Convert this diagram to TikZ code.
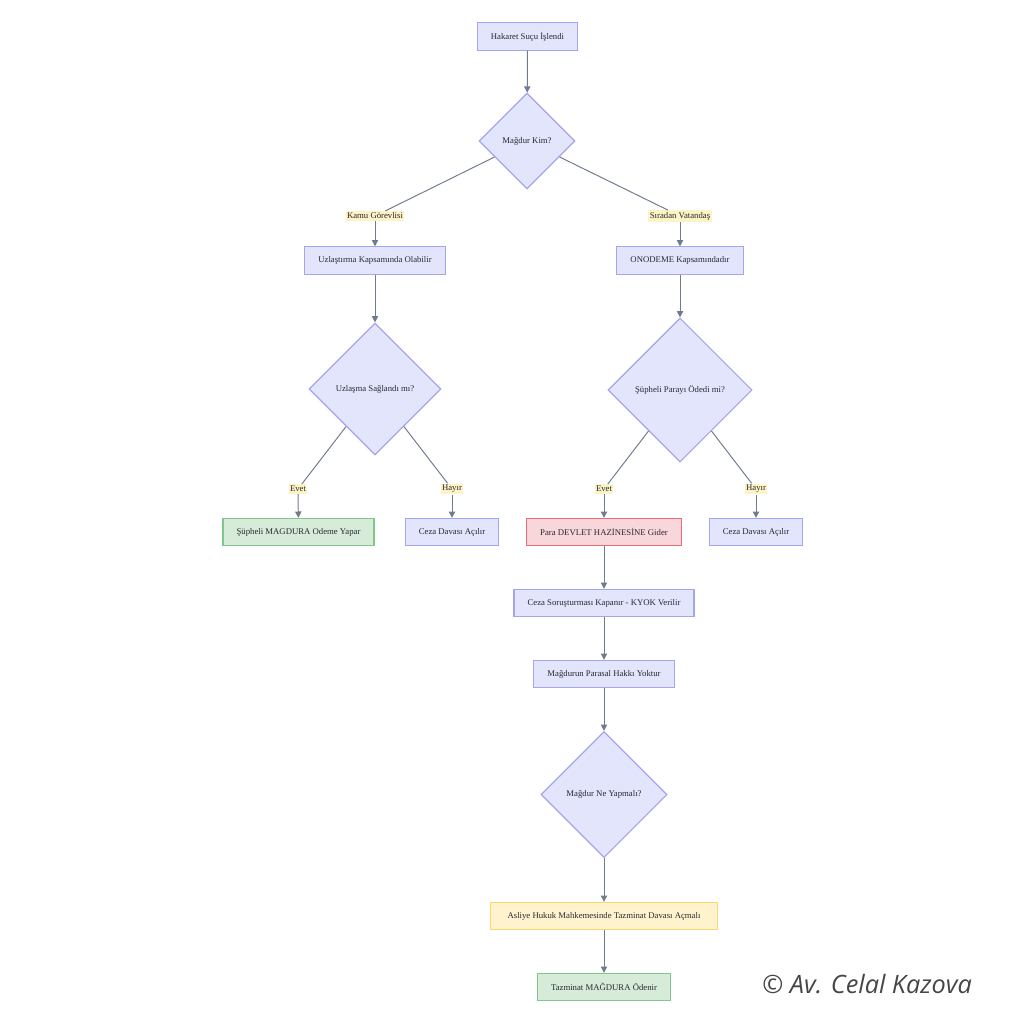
\documentclass[tikz,border=0pt]{standalone}
\usepackage{fontspec}
\setmainfont{Liberation Serif}
\newfontfamily\signfont{Open Sans}
\usepackage{xcolor}
\usepackage{tikz}
\usetikzlibrary{shapes.geometric, arrows.meta, positioning}
\definecolor{boxfill}{RGB}{226,229,252}
\definecolor{boxline}{RGB}{165,165,235}
\definecolor{okfill}{RGB}{214,236,217}
\definecolor{okline}{RGB}{128,200,138}
\definecolor{badfill}{RGB}{248,214,218}
\definecolor{badline}{RGB}{230,108,120}
\definecolor{notefill}{RGB}{255,243,206}
\definecolor{noteline}{RGB}{252,214,105}
\definecolor{lblfill}{RGB}{252,244,196}
\definecolor{edgecol}{RGB}{112,124,142}
\definecolor{txtcol}{RGB}{40,40,50}
\definecolor{signcol}{RGB}{70,70,70}

\begin{document}
\begin{tikzpicture}[
  x=0.025cm, y=-0.025cm,
  procnode/.style = {rectangle, fill=boxfill, draw=boxline, line width=0.8pt,
                 minimum height=0.68cm, inner xsep=0.34cm, text=txtcol,
                 font=\fontsize{6.2}{7.5}\selectfont},
  oknode/.style   = {procnode, fill=okfill, draw=okline},
  badnode/.style  = {procnode, fill=badfill, draw=badline},
  notenode/.style = {procnode, fill=notefill, draw=noteline, inner xsep=0.42cm},
  decnode/.style  = {diamond, aspect=1, inner sep=0pt, fill=boxfill, draw=boxline,
                 line width=0.8pt, text=txtcol, font=\fontsize{6.2}{7.5}\selectfont},
  lblnode/.style  = {rectangle, fill=lblfill, inner xsep=1pt, inner ysep=1.2pt,
                 text=txtcol, font=\fontsize{6.2}{7.5}\selectfont},
  line/.style = {line width=0.7pt, color=edgecol},
  arr/.style  = {line, -{Triangle[length=4.5pt, width=4.5pt]}},
]
\useasboundingbox (0,0) rectangle (1024,1024);

%% --- Top ---
\node[procnode] (hak) at (527.5,36.5) {Hakaret Suçu İşlendi};
\node[decnode, minimum size=2.4cm] (kim) at (527,141) {Mağdur Kim?};

%% --- Left branch ---
\node[lblnode] (lkamu) at (375,216) {Kamu Görevlisi};
\node[procnode] (uzl) at (375,260.5) {Uzlaştırma Kapsamında Olabilir};
\node[decnode, minimum size=3.3cm] (uzls) at (375,389) {Uzlaşma Sağlandı mı?};
\node[lblnode] (levet1) at (298,489) {Evet};
\node[lblnode] (lhayir1) at (452,489) {Hayır};
\node[oknode] (odeme) at (298.5,532) {Şüpheli MAGDURA Odeme Yapar};
\node[procnode] (dava1) at (452,532) {Ceza Davası Açılır};

%% --- Right branch ---
\node[lblnode] (lvat) at (680,216) {Sıradan Vatandaş};
\node[procnode] (onod) at (680,260.5) {ONODEME Kapsamındadır};
\node[decnode, minimum size=3.6cm] (para) at (680,390) {Şüpheli Parayı Ödedi mi?};
\node[lblnode] (levet2) at (604,489) {Evet};
\node[lblnode] (lhayir2) at (756,489) {Hayır};
\node[badnode] (hazine) at (604,532) {Para DEVLET HAZİNESİNE Gider};
\node[procnode] (dava2) at (756,532) {Ceza Davası Açılır};

%% --- Lower chain ---
\node[procnode] (kyok) at (604,603) {Ceza Soruşturması Kapanır - KYOK Verilir};
\node[procnode] (hakki) at (604,674) {Mağdurun Parasal Hakkı Yoktur};
\node[decnode, minimum size=3.15cm] (ne) at (604,794.5) {Mağdur Ne Yapmalı?};
\node[notenode] (asliye) at (604,916) {Asliye Hukuk Mahkemesinde Tazminat Davası Açmalı};
\node[oknode] (tazm) at (604,987) {Tazminat MAĞDURA Ödenir};

%% --- Signature ---
\node[anchor=west, inner sep=0pt, text=signcol, font=\signfont\itshape\fontsize{18}{20}\selectfont]
  (sign) at (762,984) {© Av. Celal Kazova};

%% --- Edges into labels ---
\foreach \a/\b in {kim/lkamu, kim/lvat, uzls/levet1, uzls/lhayir1, para/levet2, para/lhayir2} {
  \draw[line] (\a) -- (\b);
}

%% --- Arrows ---
\foreach \a/\b in {hak/kim, lkamu/uzl, lvat/onod, uzl/uzls, onod/para,
                   levet1/odeme, lhayir1/dava1, levet2/hazine, lhayir2/dava2,
                   hazine/kyok, kyok/hakki, hakki/ne, ne/asliye, asliye/tazm} {
  \draw[arr] (\a) -- (\b);
}

\end{tikzpicture}
\end{document}
